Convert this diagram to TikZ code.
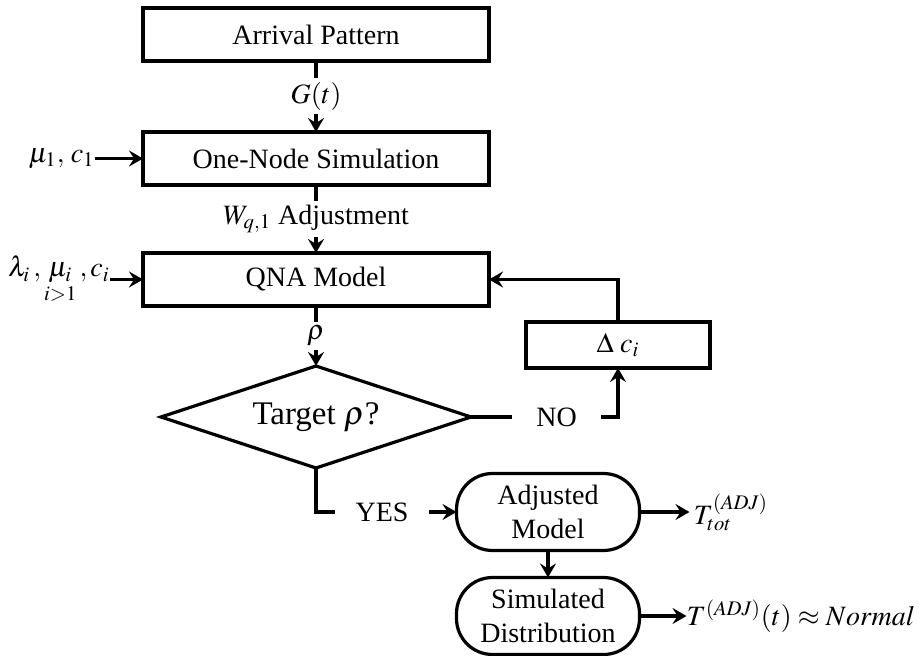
\documentclass[tikz,border=0pt]{standalone}
\usepackage{amsmath}
\usepackage{mathptmx}
\usepackage[no-math]{fontspec}
\setmainfont{Liberation Serif}
\usetikzlibrary{positioning,arrows.meta,shapes.geometric}
\tikzset{
  base/.style    ={draw=black, line width=1.6pt, align=center, outer sep=0pt,
                   font=\fontsize{14}{17}\selectfont},
  stepbox/.style ={base, minimum width=173pt, minimum height=26.5pt, inner sep=0pt},
  decide/.style  ={base, diamond, aspect=3, minimum width=155pt, minimum height=51pt,
                   inner sep=0pt, font=\fontsize{16.5}{19}\selectfont},
  smallbox/.style={base, minimum width=92pt, minimum height=23pt, inner sep=0pt},
  pill/.style    ={base, rounded corners=18pt, minimum width=91.5pt,
                   minimum height=38.5pt, inner sep=0pt},
  lbl/.style     ={font=\fontsize{14}{17}\selectfont, inner sep=1pt},
  onarrow/.style ={lbl, fill=white, inner sep=2pt},
  flow/.style    ={-{Stealth[length=7pt,width=8pt,inset=2.5pt]}, line width=1.8pt},
  link/.style    ={line width=1.8pt},
}

\begin{document}
\begin{tikzpicture}

  \useasboundingbox (0,0) rectangle (459.5pt,-328pt);

  % ---- main column ----
  \node[stepbox] (arrival) at (158pt,-17.25pt) {Arrival Pattern};
  \node[stepbox, below=35.5pt of arrival] (onenode) {One-Node Simulation};
  \node[stepbox, below=34pt of onenode] (qna) {QNA Model};
  \node[decide, below=30pt of qna] (target) {Target $\rho$?};

  % ---- feedback loop ----
  \node[smallbox] (delta) at (309pt,-172.5pt) {$\Delta\;c_i$};
  \node[lbl, inner xsep=12pt, right=20.5pt of target, anchor=west] (no) {NO};

  % ---- accepted branch ----
  \node[lbl, inner xsep=10pt] (yes) at (191pt,-256pt) {YES};
  \node[pill] (adjusted) at (274pt,-256pt) {Adjusted\\Model};
  \node[pill, below=13.5pt of adjusted] (simulated) {Simulated\\Distribution};

  % ---- inputs / outputs ----
  \node[lbl, left=24pt of onenode, inner sep=0pt] (mu1) {$\mu_1,\,c_1$};
  \node[lbl, left=16.5pt of qna, inner sep=0pt] (lam)
    {$\lambda_i\,,\underset{\smash{i>1}}{\mu_i}\,,c_i$};
  \node[lbl, right=25pt of adjusted, inner sep=2pt] (tot) {$T_{tot}^{(ADJ)}$};
  \node[lbl, right=23.5pt of simulated, inner sep=0pt] (normal)
    {$T^{(ADJ)}(t)\approx Normal$};

  % ---- edges ----
  \draw[flow] (arrival) -- node[onarrow]{$G(t)$} (onenode);
  \draw[flow] (onenode) -- node[onarrow]{$W_{q,1}$ Adjustment} (qna);
  \draw[flow] (qna) -- node[onarrow]{$\rho$} (target);
  \draw[flow] (mu1) -- (onenode);
  \draw[flow] (lam) -- (qna);
  \draw[link] (target) -- (no);
  \draw[flow] (no.east) -| (delta.south);
  \draw[flow] (delta.north) |- (qna.east);
  \draw[link] (target.south) |- (yes.west);
  \draw[flow] (yes) -- (adjusted);
  \draw[flow] (adjusted) -- (tot);
  \draw[flow] (adjusted) -- (simulated);
  \draw[flow] (simulated) -- (normal);

\end{tikzpicture}
\end{document}
